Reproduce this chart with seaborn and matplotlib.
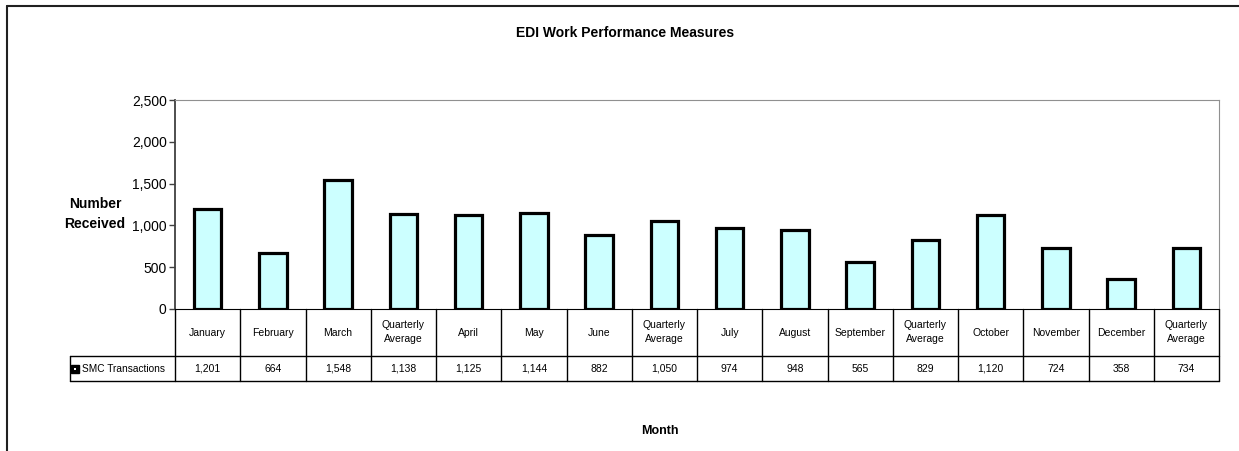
import numpy as np
import pandas as pd
import matplotlib
matplotlib.use("Agg")
import matplotlib.pyplot as plt
from matplotlib.lines import Line2D
import matplotlib.transforms as mtransforms
import seaborn as sns

# data
months = ['January', 'February', 'March', 'Quarterly\nAverage',
          'April', 'May', 'June', 'Quarterly\nAverage',
          'July', 'August', 'September', 'Quarterly\nAverage',
          'October', 'November', 'December', 'Quarterly\nAverage']
transactions = [1201, 664, 1548, 1138, 1125, 1144, 882, 1050,
                974, 948, 565, 829, 1120, 724, 358, 734]
series_name = 'SMC Transactions'
y_ticks = [0, 500, 1000, 1500, 2000, 2500]

sns.set_style("white")
plt.rcParams['font.family'] = ['Liberation Sans Narrow', 'Liberation Sans', 'DejaVu Sans']
plt.rcParams['text.color'] = 'black'
plt.rcParams['ytick.color'] = 'black'
plt.rcParams['ytick.labelcolor'] = 'black'

df = pd.DataFrame({'key': [f"c{i}" for i in range(len(months))],
                   'month': months, 'value': transactions})

W, H = 1239, 451
fig = plt.figure(figsize=(W / 100, H / 100), dpi=100)
ax = fig.add_axes([175 / W, 1 - 309 / H, (1219 - 175) / W, (309 - 100) / H])

sns.barplot(data=df, x='key', y='value', color='#CCFFFF', width=0.42,
            edgecolor='black', linewidth=2.3, saturation=1, ax=ax)

ax.set_ylim(0, 2500)
ax.set_yticks(y_ticks)
ax.set_yticklabels([f"{v:,}" for v in y_ticks], fontsize=10)
ax.tick_params(axis='y', left=True, length=4, width=1, color='#404040', pad=2)
ax.set_xticks([])
ax.set_xlabel('')
ax.set_ylabel('')
ax.set_xlim(-0.5, len(months) - 0.5)

ax.spines['left'].set_color('#404040')
ax.spines['left'].set_linewidth(1.3)
ax.spines['top'].set_color('#909090')
ax.spines['right'].set_color('#909090')
ax.spines['bottom'].set_color('black')

# data table under the plot
trans = mtransforms.blended_transform_factory(ax.transData, ax.transAxes)
y_head = -47 / 209
y_data = -72 / 209
x_lab = (70 - 175) / (1219 - 175)
n = len(months)
for i in range(n + 1):
    ax.plot([i - 0.5, i - 0.5], [0, y_data], color='black', lw=1,
            transform=trans, clip_on=False)
for yy in (y_head, y_data):
    ax.plot([x_lab, 1], [yy, yy], color='black', lw=1,
            transform=ax.transAxes, clip_on=False)
ax.plot([x_lab, x_lab], [y_head, y_data], color='black', lw=1,
        transform=ax.transAxes, clip_on=False)

for i, (m, v) in enumerate(zip(months, transactions)):
    ax.text(i, y_head / 2, m, transform=trans, ha='center', va='center',
            fontsize=7.5, linespacing=1.5)
    ax.text(i, (y_head + y_data) / 2, f"{v:,}", transform=trans,
            ha='center', va='center', fontsize=7.5)

# legend key of the table row
ax.plot([x_lab + 0.005], [(y_head + y_data) / 2], marker='s', ms=5.5,
        color='black', mec='black', transform=ax.transAxes, clip_on=False)
ax.plot([x_lab + 0.005], [(y_head + y_data) / 2], marker='s', ms=1.5,
        color='white', mew=0, transform=ax.transAxes, clip_on=False)
ax.text(x_lab + 0.0115, (y_head + y_data) / 2, series_name,
        transform=ax.transAxes, ha='left', va='center', fontsize=7.3)

fig.text(625 / W, 1 - 33 / H, 'EDI Work Performance Measures',
         ha='center', va='center', fontsize=10, fontweight='bold')
fig.text(95 / W, 1 - 214 / H, 'Number\nReceived', ha='center', va='center',
         fontsize=10, fontweight='bold', linespacing=1.6)
fig.text(660 / W, 1 - 431 / H, 'Month', ha='center', va='center',
         fontsize=9, fontweight='bold')

# outer chart frame
fig.add_artist(Line2D([7 / W, 1], [1 - 6 / H, 1 - 6 / H], color='#202020', lw=1.5))
fig.add_artist(Line2D([7 / W, 7 / W], [0, 1 - 6 / H], color='#202020', lw=1.5))

fig.savefig('out.png', dpi=100)
